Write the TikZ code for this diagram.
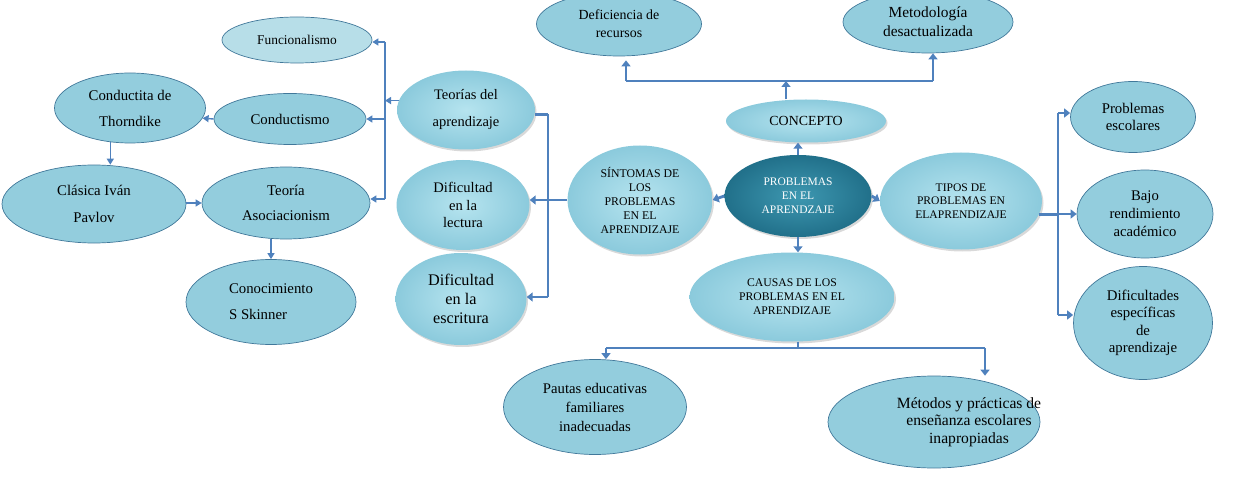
\documentclass[tikz,border=0pt]{standalone}
\usepackage{fontspec}
\setmainfont{Liberation Serif}
\usetikzlibrary{positioning, arrows.meta, shapes.geometric, shadows}
\definecolor{bubblefill}{HTML}{93CDDD}
\definecolor{bubbleline}{HTML}{41789A}
\definecolor{lightfill}{HTML}{B7DEE8}
\definecolor{glossin}{HTML}{B6E4EF}
\definecolor{glossout}{HTML}{8BCADC}
\definecolor{corein}{HTML}{3E98B1}
\definecolor{coreout}{HTML}{21708A}
\definecolor{linkblue}{HTML}{4F81BD}
\newcommand{\fsz}[2]{\fontsize{#1}{#2}\selectfont}

\begin{document}
\begin{tikzpicture}[x=1pt, y=-1pt,
    leafcell/.style={ellipse, draw=bubbleline, line width=0.7pt, fill=bubblefill, inner sep=0pt, align=center, font=\fsz{14.8}{17.5}},
    glosscell/.style={ellipse, inner sep=0pt, align=center, inner color=glossin, outer color=glossout, drop shadow={shadow xshift=1.5pt, shadow yshift=-2pt, opacity=0.3}, font=\fsz{11.7}{14}},
    corecell/.style={glosscell, inner color=corein, outer color=coreout, text=white},
    thinlink/.style={draw=linkblue, line width=1.4pt},
    thinarrow/.style={thinlink, -{Triangle[length=6pt, width=7pt]}},
    thicklink/.style={draw=linkblue, line width=2.8pt},
    thickarrow/.style={thicklink, -{Triangle[length=6pt, width=9pt]}},
]
\useasboundingbox (0,0) rectangle (1238,478);

% teorias del aprendizaje (left side)
\node[leafcell, fill=lightfill, minimum width=150pt, minimum height=46pt, font=\fsz{13.4}{15}] (funcional) at (297,40) {Funcionalismo};
\node[leafcell, minimum width=151pt, minimum height=70pt, font=\fsz{14.8}{26}] (thorndike) at (130,108) {Conductita de\\Thorndike};
\node[leafcell, minimum width=152pt, minimum height=51pt] (conductismo) at (290,119) {Conductismo};
\node[leafcell, minimum width=184pt, minimum height=78pt, font=\fsz{14.8}{27}] (pavlov) at (94,204) {Clásica Iván\\Pavlov};
\node[leafcell, minimum width=168pt, minimum height=72pt, font=\fsz{14.8}{25}] (asoc) at (286,203) {Teoría\\Asociacionism};
\node[leafcell, minimum width=170pt, minimum height=85pt, align=left, font=\fsz{14.8}{26}] (skinner) at (271,302) {Conocimiento\\S Skinner};

% sintomas
\node[glosscell, minimum width=138pt, minimum height=79pt, font=\fsz{14.5}{27}] (teorias) at (466,110) {Teorías del\\aprendizaje};
\node[glosscell, minimum width=133pt, minimum height=90pt, font=\fsz{14.6}{17.5}] (lectura) at (463,205) {Dificultad\\en la\\lectura};
\node[glosscell, minimum width=131pt, minimum height=92pt, font=\fsz{16.2}{19}] (escritura) at (461,299) {Dificultad\\en la\\escritura};
\node[glosscell, minimum width=145pt, minimum height=109pt, font=\fsz{11.8}{14}] (sintomas) at (640,200) {SÍNTOMAS DE\\LOS\\PROBLEMAS\\EN EL\\APRENDIZAJE};

% centro y concepto
\node[corecell, minimum width=147pt, minimum height=82pt, font=\fsz{11.5}{13.8}] (problemas) at (798,196) {PROBLEMAS\\EN EL\\APRENDZAJE};
\node[glosscell, minimum width=160pt, minimum height=43pt, font=\fsz{13.9}{16}] (concepto) at (806,121) {CONCEPTO};
\node[leafcell, minimum width=165pt, minimum height=64pt, font=\fsz{13.9}{18}] (deficiencia) at (619,24) {Deficiencia de\\recursos};
\node[leafcell, minimum width=170pt, minimum height=62pt, font=\fsz{15.4}{19}] (metodologia) at (928,22) {Metodología\\desactualizada};

% tipos
\node[glosscell, minimum width=162pt, minimum height=97pt, font=\fsz{11.6}{13.5}] (tipos) at (961,201) {TIPOS DE\\PROBLEMAS EN\\ELAPRENDIZAJE};
\node[leafcell, minimum width=125pt, minimum height=71pt] (escolares) at (1133,117) {Problemas\\escolares};
\node[leafcell, minimum width=136pt, minimum height=88pt, font=\fsz{14.7}{18}] (bajo) at (1145,214) {Bajo\\rendimiento\\académico};
\node[leafcell, minimum width=139pt, minimum height=113pt] (dificultades) at (1143,323) {Dificultades\\específicas\\de\\aprendizaje};

% causas
\node[glosscell, minimum width=205pt, minimum height=89pt, font=\fsz{11.7}{14}] (causas) at (792,297) {CAUSAS DE LOS\\PROBLEMAS EN EL\\APRENDIZAJE};
\node[leafcell, minimum width=183pt, minimum height=95pt, font=\fsz{14.7}{19}] (pautas) at (595,407) {Pautas educativas\\familiares\\inadecuadas};
\node[leafcell, minimum width=212pt, minimum height=92pt, font=\fsz{15.6}{17.5}] (metodos) at (934,422)
  {\makebox[0pt]{\hspace*{70pt}\begin{tabular}{@{}c@{}}Métodos y prácticas de\\enseñanza escolares\\inapropiadas\end{tabular}}};

% left tree
\coordinate (lspTop) at (385,42);
\coordinate (lspBot) at (385,199);
\draw[thinlink] (lspTop) -- (lspBot);
\draw[thinarrow] (lspTop) -- (lspTop -| funcional.east);
\draw[thinarrow] (teorias.172) -- (teorias.172 -| lspTop);
\draw[thinarrow] (lspTop |- conductismo.east) -- (conductismo.east);
\draw[thinarrow] (lspBot) -- (lspBot -| asoc.east);
\draw[thinarrow] (conductismo.west) -- (thorndike.-8);
\draw[thinarrow] (thorndike.240) -- (thorndike.240 |- pavlov.north);
\draw[thinarrow] (asoc.west -| pavlov.east) -- (asoc.west);
\draw[thinarrow] (asoc.south -| skinner.north) -- (skinner.north);

% sintomas bracket
\coordinate (mspTop) at (548,114);
\coordinate (mspBot) at (548,297);
\draw[thicklink] (teorias.-4) -- (teorias.-4 -| mspTop);
\draw[thicklink] (mspTop) -- (mspBot);
\draw[thickarrow] (mspBot) -- (mspBot -| escritura.east);
\draw[thickarrow] (sintomas.west) -- (sintomas.west -| lectura.east);
\draw[thickarrow] (problemas.west) -- (sintomas.east);

% concepto
\coordinate (topBarL) at (626,81);
\coordinate (topBarM) at (786,81);
\coordinate (topBarR) at (933,81);
\draw[thickarrow] (problemas.north) -- (problemas.north |- concepto.south);
\draw[thickarrow] (concepto.north -| topBarM) -- (topBarM);
\draw[thicklink] (topBarL) -- (topBarR);
\draw[thickarrow, shorten >=4pt] (topBarL) -- (topBarL |- deficiencia.south);
\draw[thickarrow] (topBarR) -- (topBarR |- metodologia.south);

% tipos
\coordinate (rspTop) at (1058,113);
\coordinate (rspBot) at (1058,315);
\draw[thickarrow] (problemas.east) -- (tipos.west);
\draw[thicklink] (tipos.-10) -- (tipos.-10 -| rspTop);
\draw[thicklink] (rspTop) -- (rspBot);
\draw[thickarrow] (rspTop) -- (rspTop -| escolares.west);
\draw[thickarrow] (rspTop |- bajo.west) -- (bajo.west);
\draw[thickarrow] (rspBot) -- (rspBot -| dificultades.west);

% causas
\coordinate (botBarL) at (606,348);
\coordinate (botBarM) at (798,348);
\coordinate (botBarR) at (985,348);
\draw[thickarrow] (problemas.south) -- (problemas.south |- causas.north);
\draw[thicklink] (causas.south -| botBarM) -- (botBarM);
\draw[thicklink] (botBarL) -- (botBarR);
\draw[thickarrow] (botBarL) -- (botBarL |- pautas.north);
\draw[thickarrow] (botBarR) -- (botBarR |- metodos.north);
\end{tikzpicture}
\end{document}
